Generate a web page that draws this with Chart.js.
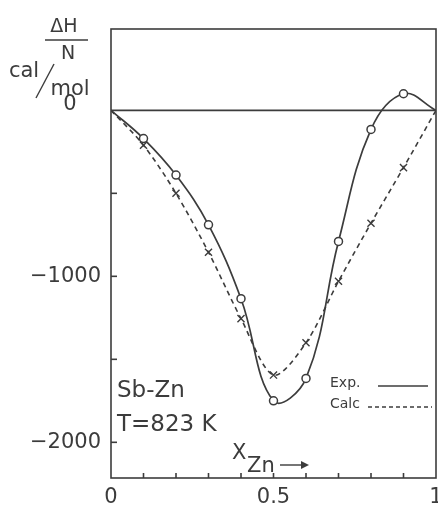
<!DOCTYPE html>
<html>
<head>
<meta charset="utf-8">
<script src="https://cdn.jsdelivr.net/npm/chart.js@4.4.0/dist/chart.umd.min.js"></script>
<style>
  html, body { margin: 0; padding: 0; background: #fff; }
  canvas { display: block; }
</style>
</head>
<body>
<canvas id="grafico" width="438" height="513"></canvas>
<script>
// datos
const xZn = [0, 0.1, 0.2, 0.3, 0.4, 0.5, 0.6, 0.7, 0.8, 0.9, 1];
const expValores = [0, -170, -390, -690, -1135, -1750, -1615, -790, -115, 100, 0];
const calcValores = [0, -210, -500, -855, -1255, -1595, -1400, -1030, -680, -345, 0];
const yEtiquetas = [0, -1000, -2000];
const yMarcas = [-500, -1000, -1500, -2000];
const xEtiquetas = [0, 0.5, 1];
const xMarcas = [0.1, 0.2, 0.3, 0.4, 0.5, 0.6, 0.7, 0.8, 0.9];

const tinta = '#3c3c3c';
const fuente = '"DejaVu Sans", sans-serif';

// marco, ticks y textos
const ejesPlugin = {
    id: 'ejes',
    afterDraw(chart) {
        const { ctx, chartArea: a, scales: { x, y } } = chart;
        ctx.save();
        ctx.strokeStyle = tinta;
        ctx.fillStyle = tinta;
        ctx.lineWidth = 1.6;
        ctx.strokeRect(a.left, a.top, a.right - a.left, a.bottom - a.top);

        // linea de cero
        const y0 = y.getPixelForValue(0);
        ctx.beginPath();
        ctx.moveTo(a.left, y0);
        ctx.lineTo(a.right, y0);
        ctx.stroke();

        // ticks hacia dentro
        yMarcas.forEach(v => {
            const py = y.getPixelForValue(v);
            ctx.beginPath();
            ctx.moveTo(a.left, py);
            ctx.lineTo(a.left + 6, py);
            ctx.stroke();
        });
        xMarcas.forEach(v => {
            const px = x.getPixelForValue(v);
            ctx.beginPath();
            ctx.moveTo(px, a.bottom);
            ctx.lineTo(px, a.bottom - 5);
            ctx.stroke();
        });

        ctx.font = '21px ' + fuente;
        ctx.textBaseline = 'middle';
        ctx.textAlign = 'right';
        yEtiquetas.forEach(v => {
            if (v === 0) return;
            ctx.fillText(String(v).replace('-', '\u2212'), a.left - 10, y.getPixelForValue(v));
        });
        ctx.textAlign = 'center';
        ctx.fillText('0', 70, y0 - 6);
        xEtiquetas.forEach(v => {
            ctx.fillText(String(v), x.getPixelForValue(v), a.bottom + 20);
        });

        // titulo del eje y
        ctx.font = '19px ' + fuente;
        ctx.fillText('\u0394H', 64, 27);
        ctx.beginPath();
        ctx.moveTo(45, 40);
        ctx.lineTo(88, 40);
        ctx.lineWidth = 1.4;
        ctx.stroke();
        ctx.fillText('N', 68, 54);
        ctx.font = '21px ' + fuente;
        ctx.fillText('cal', 24, 72);
        ctx.fillText('mol', 70, 90);
        ctx.beginPath();
        ctx.moveTo(36, 98);
        ctx.lineTo(54, 64);
        ctx.stroke();

        // textos dentro
        ctx.textAlign = 'left';
        ctx.font = '23px ' + fuente;
        ctx.fillText('Sb-Zn', 117, 391);
        ctx.fillText('T=823 K', 117, 425);
        ctx.font = '21px ' + fuente;
        ctx.fillText('X', 232, 454);
        ctx.fillText('Zn', 247, 467);
        ctx.beginPath();
        ctx.moveTo(280, 465);
        ctx.lineTo(307, 465);
        ctx.stroke();
        ctx.beginPath();
        ctx.moveTo(309, 465);
        ctx.lineTo(301, 461);
        ctx.lineTo(301, 469);
        ctx.closePath();
        ctx.fill();

        // leyenda
        ctx.font = '14px ' + fuente;
        ctx.fillText('Exp.', 330, 383);
        ctx.fillText('Calc', 330, 404);
        ctx.lineWidth = 1.4;
        ctx.beginPath();
        ctx.moveTo(378, 386);
        ctx.lineTo(428, 386);
        ctx.stroke();
        ctx.setLineDash([4, 3]);
        ctx.beginPath();
        ctx.moveTo(368, 407);
        ctx.lineTo(432, 407);
        ctx.stroke();
        ctx.restore();
    }
};

const sinExtremos = (ctx) => (ctx.dataIndex === 0 || ctx.dataIndex === xZn.length - 1) ? 0 : 4;

new Chart(document.getElementById('grafico'), {
    type: 'line',
    data: {
        datasets: [
            {
                label: 'Exp.',
                data: xZn.map((v, i) => ({ x: v, y: expValores[i] })),
                borderColor: tinta,
                borderWidth: 1.7,
                tension: 0.4,
                pointStyle: 'circle',
                pointRadius: sinExtremos,
                pointBorderColor: tinta,
                pointBackgroundColor: '#fff',
                pointBorderWidth: 1.5
            },
            {
                label: 'Calc',
                data: xZn.map((v, i) => ({ x: v, y: calcValores[i] })),
                borderColor: tinta,
                borderWidth: 1.6,
                borderDash: [5, 4],
                tension: 0.3,
                pointStyle: 'crossRot',
                pointRadius: (c) => sinExtremos(c) ? 5 : 0,
                pointBorderColor: tinta,
                pointBorderWidth: 1.4
            }
        ]
    },
    options: {
        responsive: false,
        animation: false,
        devicePixelRatio: 1,
        layout: { padding: { left: 111, right: 2, top: 29, bottom: 35 } },
        scales: {
            x: { type: 'linear', min: 0, max: 1, display: false },
            y: { type: 'linear', min: -2215, max: 490, display: false }
        },
        plugins: {
            legend: { display: false },
            tooltip: { enabled: false }
        }
    },
    plugins: [ejesPlugin]
});
</script>
</body>
</html>
